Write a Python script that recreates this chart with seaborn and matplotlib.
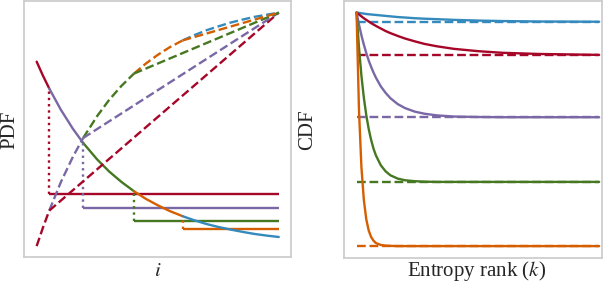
import numpy as np
import pandas as pd
import matplotlib
matplotlib.use("Agg")
import matplotlib.pyplot as plt
import seaborn as sns

# colores (paleta bmh)
red, purple, green, orange, blue = "#A60628", "#7A68A6", "#467821", "#D55E00", "#348ABD"
seg_colors = [red, purple, green, orange, blue]

# Panel izquierdo: PDF y CDF sobre i (normalizado)
pdf_x = [0, 0.026, 0.052, 0.1, 0.15, 0.192, 0.25, 0.3, 0.35, 0.402, 0.45, 0.5, 0.55,
         0.603, 0.65, 0.7, 0.75, 0.8, 0.85, 0.9, 0.95, 1.0]
pdf_y = [0.790, 0.730, 0.675, 0.584, 0.502, 0.442, 0.371, 0.319, 0.275, 0.235, 0.203, 0.175, 0.150,
         0.128, 0.111, 0.095, 0.082, 0.071, 0.061, 0.052, 0.045, 0.039]
cdf_y = [0.0, 0.079, 0.152, 0.274, 0.383, 0.463, 0.557, 0.627, 0.686, 0.739, 0.781, 0.819, 0.852,
         0.881, 0.903, 0.924, 0.941, 0.957, 0.970, 0.982, 0.991, 1.0]
# indices de los cortes (x1..x4) y niveles uniformes
cut_idx = [0, 2, 5, 9, 13, 21]
flat_levels = [0.223, 0.163, 0.108, 0.074]

# Panel derecho: CDF vs rango de entropia
k_vals = [0, 0.01, 0.02, 0.03, 0.04, 0.05, 0.06, 0.07, 0.08, 0.1, 0.12, 0.14, 0.17, 0.2,
          0.24, 0.28, 0.33, 0.4, 0.5, 0.6, 0.75, 1.0]
cdf_blue = [1.0, 0.999, 0.997, 0.996, 0.994, 0.993, 0.992, 0.991, 0.990, 0.988, 0.986, 0.984, 0.981,
            0.979, 0.976, 0.974, 0.972, 0.969, 0.966, 0.964, 0.962, 0.961]
cdf_red = [1.0, 0.992, 0.984, 0.976, 0.969, 0.962, 0.955, 0.949, 0.943, 0.932, 0.921, 0.912, 0.900,
           0.889, 0.877, 0.866, 0.856, 0.845, 0.835, 0.828, 0.823, 0.819]
cdf_purple = [1.0, 0.949, 0.903, 0.863, 0.827, 0.795, 0.768, 0.743, 0.721, 0.684, 0.656, 0.633, 0.608,
              0.591, 0.576, 0.567, 0.560, 0.555, 0.553, 0.552, 0.552, 0.552]
cdf_green = [1.0, 0.850, 0.730, 0.636, 0.561, 0.502, 0.455, 0.417, 0.388, 0.346, 0.320, 0.303, 0.289,
             0.282, 0.278, 0.276, 0.275, 0.275, 0.275, 0.275, 0.275, 0.275]
cdf_orange = [1.0, 0.582, 0.339, 0.198, 0.115, 0.067, 0.039, 0.023, 0.013, 0.005, 0.002, 0.001, 0.0,
              0.0, 0.0, 0.0, 0.0, 0.0, 0.0, 0.0, 0.0, 0.0]
limits = [0.960, 0.817, 0.552, 0.275, 0.0]

sns.set_theme(style="white")
plt.rcParams["font.family"] = ["Liberation Serif", "DejaVu Serif"]
plt.rcParams["mathtext.fontset"] = "stix"

fig = plt.figure(figsize=(6.12, 2.84), dpi=100)
ax1 = fig.add_axes([0.0397, 0.094, 0.4356, 0.901])
ax2 = fig.add_axes([0.562, 0.0915, 0.421, 0.9035])

lw = 1.7
# --- izquierda ---
for j in range(4):
    x0 = pdf_x[cut_idx[j + 1]]
    ax1.hlines(flat_levels[j], x0, 1.0, color=seg_colors[j], lw=lw)
for j in range(5):
    a, b = cut_idx[j], cut_idx[j + 1]
    sns.lineplot(x=pdf_x[a:b + 1], y=pdf_y[a:b + 1], color=seg_colors[j], lw=lw,
                 sort=False, estimator=None, ax=ax1)
for j in range(4):
    i = cut_idx[j + 1]
    ax1.vlines(pdf_x[i], flat_levels[j], pdf_y[i], color=seg_colors[j], lw=lw, linestyles=":")
for j in range(5):
    a, b = cut_idx[j], cut_idx[j + 1]
    sns.lineplot(x=pdf_x[a:b + 1], y=cdf_y[a:b + 1], color=seg_colors[j], lw=lw,
                 linestyle="--", sort=False, estimator=None, ax=ax1)
for j in range(4):
    i = cut_idx[j + 1]
    sns.lineplot(x=[pdf_x[i], 1.0], y=[cdf_y[i], 1.0], color=seg_colors[j], lw=lw,
                 linestyle="--", sort=False, estimator=None, ax=ax1)

ax1.set_xlim(-0.051, 1.05)
ax1.set_ylim(-0.048, 1.048)

# --- derecha ---
curves = [cdf_blue, cdf_red, cdf_purple, cdf_green, cdf_orange]
curve_colors = [blue, red, purple, green, orange]
for lv, c in zip(limits, curve_colors):
    sns.lineplot(x=[k_vals[0], k_vals[-1]], y=[lv, lv], color=c, lw=lw, linestyle="--",
                 sort=False, estimator=None, ax=ax2)
for yv, c in zip(curves, curve_colors):
    sns.lineplot(x=k_vals, y=yv, color=c, lw=lw, sort=False, estimator=None, ax=ax2)

ax2.set_xlim(-0.052, 1.01)
ax2.set_ylim(-0.051, 1.048)

for ax in (ax1, ax2):
    ax.set_xticks([])
    ax.set_yticks([])
    for s in ax.spines.values():
        s.set_color("#cccccc")
        s.set_linewidth(1.25)

fs = 15
ax1.set_ylabel("PDF", fontsize=fs)
ax1.set_xlabel("$i$", fontsize=fs)
ax2.set_ylabel("CDF", fontsize=fs)
ax2.set_xlabel("Entropy rank ($k$)", fontsize=fs)
ax1.yaxis.set_label_coords(-0.02, 0.5)
ax2.yaxis.set_label_coords(-0.105, 0.5)
ax1.xaxis.set_label_coords(0.5, -0.018)
ax2.xaxis.set_label_coords(0.515, -0.004)

fig.savefig("out.png", dpi=100)
